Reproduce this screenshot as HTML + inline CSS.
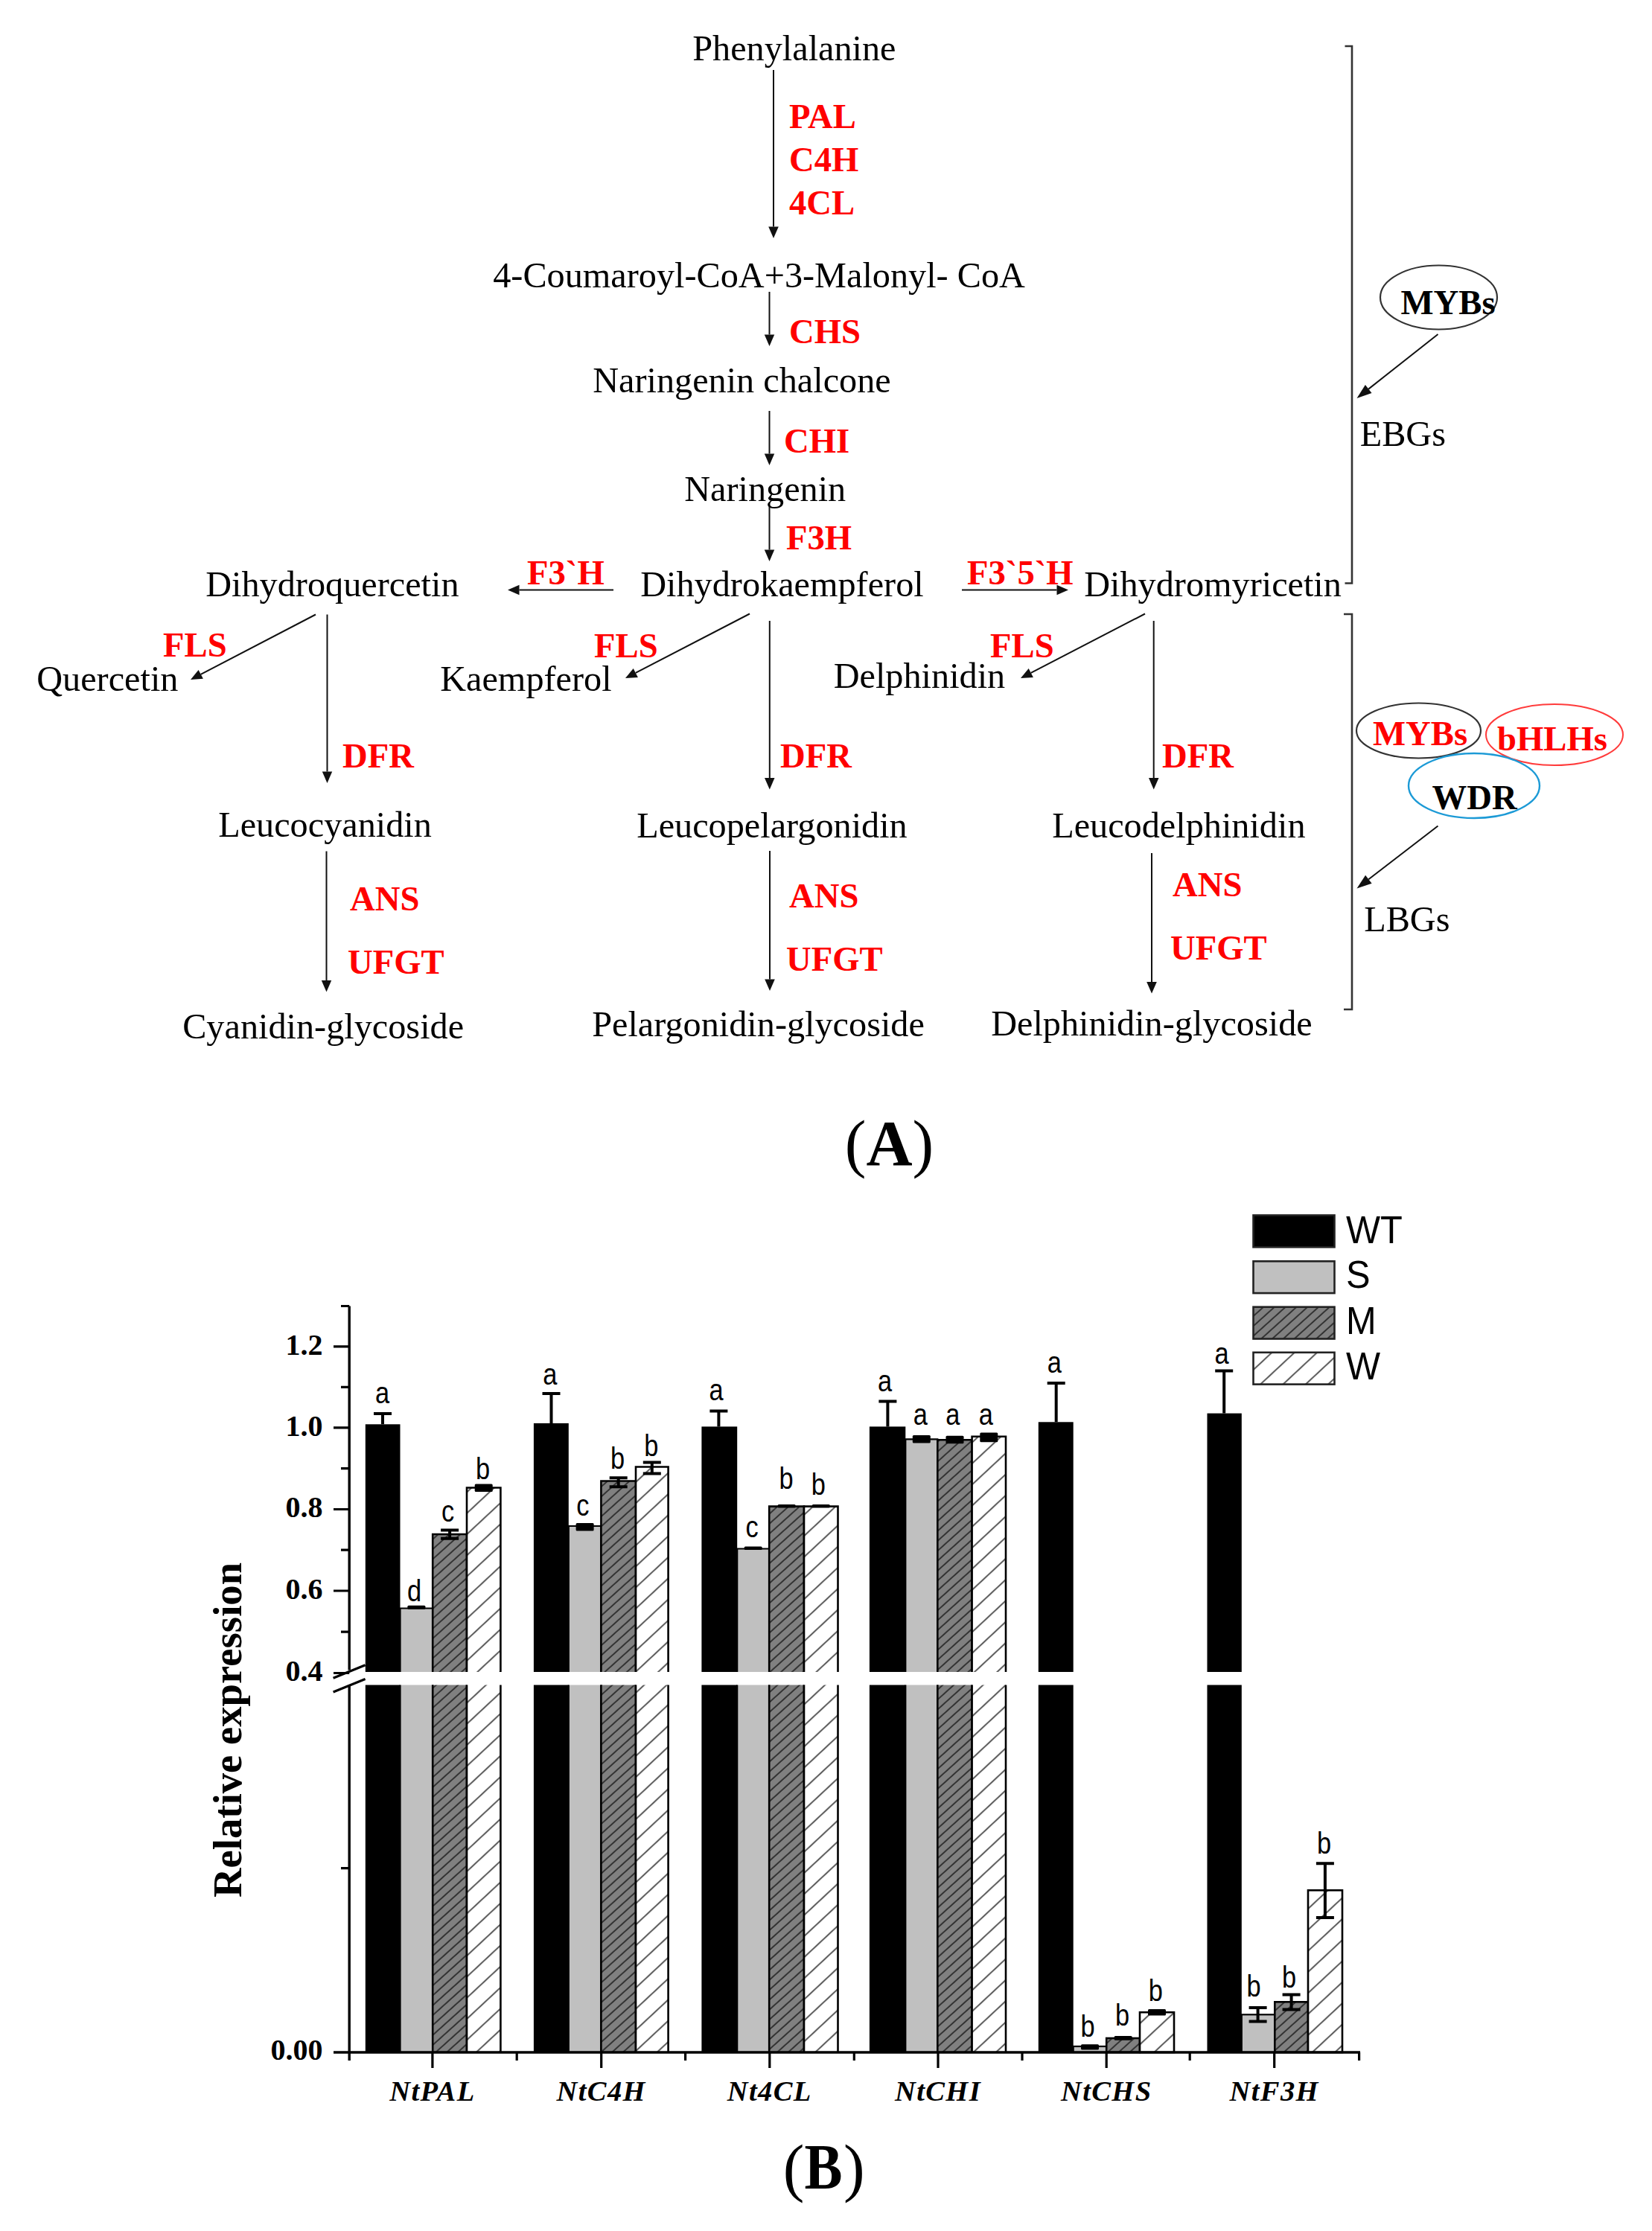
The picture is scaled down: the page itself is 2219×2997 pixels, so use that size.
<!DOCTYPE html>
<html lang="en"><head><meta charset="utf-8"><title>Figure</title>
<style>html,body{margin:0;padding:0;background:#fff}svg{display:block}</style></head>
<body>
<svg width="2219" height="2997" viewBox="0 0 2219 2997">
<rect width="2219" height="2997" fill="#fff"/>
<text x="930.2" y="81" font-family='"Liberation Serif", serif' font-size="48.25" font-weight="normal" font-style="normal" fill="#000" text-anchor="start" >Phenylalanine</text>
<text x="662.2" y="386" font-family='"Liberation Serif", serif' font-size="48.25" font-weight="normal" font-style="normal" fill="#000" text-anchor="start" >4-Coumaroyl-CoA+3-Malonyl- CoA</text>
<text x="796.2" y="527" font-family='"Liberation Serif", serif' font-size="48.25" font-weight="normal" font-style="normal" fill="#000" text-anchor="start" >Naringenin chalcone</text>
<text x="919.2" y="673" font-family='"Liberation Serif", serif' font-size="48.25" font-weight="normal" font-style="normal" fill="#000" text-anchor="start" >Naringenin</text>
<text x="860.2" y="801" font-family='"Liberation Serif", serif' font-size="48.25" font-weight="normal" font-style="normal" fill="#000" text-anchor="start" >Dihydrokaempferol</text>
<text x="276.2" y="801" font-family='"Liberation Serif", serif' font-size="48.25" font-weight="normal" font-style="normal" fill="#000" text-anchor="start" >Dihydroquercetin</text>
<text x="1456.2" y="801" font-family='"Liberation Serif", serif' font-size="48.25" font-weight="normal" font-style="normal" fill="#000" text-anchor="start" >Dihydromyricetin</text>
<text x="49.2" y="928" font-family='"Liberation Serif", serif' font-size="48.25" font-weight="normal" font-style="normal" fill="#000" text-anchor="start" >Quercetin</text>
<text x="591.2" y="928" font-family='"Liberation Serif", serif' font-size="48.25" font-weight="normal" font-style="normal" fill="#000" text-anchor="start" >Kaempferol</text>
<text x="1119.7" y="924" font-family='"Liberation Serif", serif' font-size="48.25" font-weight="normal" font-style="normal" fill="#000" text-anchor="start" >Delphinidin</text>
<text x="293.2" y="1124" font-family='"Liberation Serif", serif' font-size="48.25" font-weight="normal" font-style="normal" fill="#000" text-anchor="start" >Leucocyanidin</text>
<text x="855.2" y="1125" font-family='"Liberation Serif", serif' font-size="48.25" font-weight="normal" font-style="normal" fill="#000" text-anchor="start" >Leucopelargonidin</text>
<text x="1413.2" y="1125" font-family='"Liberation Serif", serif' font-size="48.25" font-weight="normal" font-style="normal" fill="#000" text-anchor="start" >Leucodelphinidin</text>
<text x="245.2" y="1395" font-family='"Liberation Serif", serif' font-size="48.25" font-weight="normal" font-style="normal" fill="#000" text-anchor="start" >Cyanidin-glycoside</text>
<text x="795.2" y="1392" font-family='"Liberation Serif", serif' font-size="48.25" font-weight="normal" font-style="normal" fill="#000" text-anchor="start" >Pelargonidin-glycoside</text>
<text x="1331.2" y="1391" font-family='"Liberation Serif", serif' font-size="48.25" font-weight="normal" font-style="normal" fill="#000" text-anchor="start" >Delphinidin-glycoside</text>
<text x="1826.7" y="598.6" font-family='"Liberation Serif", serif' font-size="48.25" font-weight="normal" font-style="normal" fill="#000" text-anchor="start" >EBGs</text>
<text x="1832.2" y="1251" font-family='"Liberation Serif", serif' font-size="48.25" font-weight="normal" font-style="normal" fill="#000" text-anchor="start" >LBGs</text>
<text x="1060" y="172.3" font-family='"Liberation Serif", serif' font-size="46.7" font-weight="bold" font-style="normal" fill="#ff0000" text-anchor="start" >PAL</text>
<text x="1060" y="229.8" font-family='"Liberation Serif", serif' font-size="46.7" font-weight="bold" font-style="normal" fill="#ff0000" text-anchor="start" >C4H</text>
<text x="1060" y="287.8" font-family='"Liberation Serif", serif' font-size="46.7" font-weight="bold" font-style="normal" fill="#ff0000" text-anchor="start" >4CL</text>
<text x="1060" y="460.8" font-family='"Liberation Serif", serif' font-size="46.7" font-weight="bold" font-style="normal" fill="#ff0000" text-anchor="start" >CHS</text>
<text x="1053" y="607.8" font-family='"Liberation Serif", serif' font-size="46.7" font-weight="bold" font-style="normal" fill="#ff0000" text-anchor="start" >CHI</text>
<text x="1056" y="737.8" font-family='"Liberation Serif", serif' font-size="46.7" font-weight="bold" font-style="normal" fill="#ff0000" text-anchor="start" >F3H</text>
<text x="708" y="784.8" font-family='"Liberation Serif", serif' font-size="46.7" font-weight="bold" font-style="normal" fill="#ff0000" text-anchor="start" >F3`H</text>
<text x="1299" y="784.8" font-family='"Liberation Serif", serif' font-size="46.7" font-weight="bold" font-style="normal" fill="#ff0000" text-anchor="start" >F3`5`H</text>
<text x="219" y="881.8" font-family='"Liberation Serif", serif' font-size="46.7" font-weight="bold" font-style="normal" fill="#ff0000" text-anchor="start" >FLS</text>
<text x="798" y="882.8" font-family='"Liberation Serif", serif' font-size="46.7" font-weight="bold" font-style="normal" fill="#ff0000" text-anchor="start" >FLS</text>
<text x="1330" y="882.8" font-family='"Liberation Serif", serif' font-size="46.7" font-weight="bold" font-style="normal" fill="#ff0000" text-anchor="start" >FLS</text>
<text x="460" y="1030.8" font-family='"Liberation Serif", serif' font-size="46.7" font-weight="bold" font-style="normal" fill="#ff0000" text-anchor="start" >DFR</text>
<text x="1048" y="1030.8" font-family='"Liberation Serif", serif' font-size="46.7" font-weight="bold" font-style="normal" fill="#ff0000" text-anchor="start" >DFR</text>
<text x="1561" y="1030.8" font-family='"Liberation Serif", serif' font-size="46.7" font-weight="bold" font-style="normal" fill="#ff0000" text-anchor="start" >DFR</text>
<text x="470" y="1223.3" font-family='"Liberation Serif", serif' font-size="46.7" font-weight="bold" font-style="normal" fill="#ff0000" text-anchor="start" >ANS</text>
<text x="467" y="1307.8" font-family='"Liberation Serif", serif' font-size="46.7" font-weight="bold" font-style="normal" fill="#ff0000" text-anchor="start" >UFGT</text>
<text x="1060" y="1219.3" font-family='"Liberation Serif", serif' font-size="46.7" font-weight="bold" font-style="normal" fill="#ff0000" text-anchor="start" >ANS</text>
<text x="1056" y="1303.8" font-family='"Liberation Serif", serif' font-size="46.7" font-weight="bold" font-style="normal" fill="#ff0000" text-anchor="start" >UFGT</text>
<text x="1575" y="1203.8" font-family='"Liberation Serif", serif' font-size="46.7" font-weight="bold" font-style="normal" fill="#ff0000" text-anchor="start" >ANS</text>
<text x="1572" y="1288.8" font-family='"Liberation Serif", serif' font-size="46.7" font-weight="bold" font-style="normal" fill="#ff0000" text-anchor="start" >UFGT</text>
<line x1="1039.0" y1="94.0" x2="1039.0" y2="304.5" stroke="#111" stroke-width="2"/>
<polygon points="1039.0,320.0 1032.2,304.5 1045.8,304.5" fill="#111"/>
<line x1="1033.5" y1="392.0" x2="1033.5" y2="449.5" stroke="#111" stroke-width="2"/>
<polygon points="1033.5,465.0 1026.8,449.5 1040.2,449.5" fill="#111"/>
<line x1="1033.5" y1="552.0" x2="1033.5" y2="609.5" stroke="#111" stroke-width="2"/>
<polygon points="1033.5,625.0 1026.8,609.5 1040.2,609.5" fill="#111"/>
<line x1="1033.5" y1="681.0" x2="1033.5" y2="738.5" stroke="#111" stroke-width="2"/>
<polygon points="1033.5,754.0 1026.8,738.5 1040.2,738.5" fill="#111"/>
<line x1="824.0" y1="792.5" x2="697.5" y2="792.5" stroke="#111" stroke-width="2"/>
<polygon points="682.0,792.5 697.5,785.8 697.5,799.2" fill="#111"/>
<line x1="1292.0" y1="792.5" x2="1419.5" y2="792.5" stroke="#111" stroke-width="2"/>
<polygon points="1435.0,792.5 1419.5,799.2 1419.5,785.8" fill="#111"/>
<line x1="424.0" y1="825.5" x2="269.7" y2="905.8" stroke="#111" stroke-width="2"/>
<polygon points="256.0,913.0 266.6,899.9 272.9,911.8" fill="#111"/>
<line x1="1007.0" y1="824.5" x2="853.8" y2="903.9" stroke="#111" stroke-width="2"/>
<polygon points="840.0,911.0 850.7,897.9 856.9,909.9" fill="#111"/>
<line x1="1538.0" y1="824.5" x2="1384.8" y2="903.9" stroke="#111" stroke-width="2"/>
<polygon points="1371.0,911.0 1381.7,897.9 1387.9,909.9" fill="#111"/>
<line x1="439.5" y1="825.5" x2="439.5" y2="1036.5" stroke="#111" stroke-width="2"/>
<polygon points="439.5,1052.0 432.8,1036.5 446.2,1036.5" fill="#111"/>
<line x1="1033.8" y1="834.0" x2="1033.8" y2="1045.0" stroke="#111" stroke-width="2"/>
<polygon points="1033.8,1060.5 1027.0,1045.0 1040.5,1045.0" fill="#111"/>
<line x1="1549.7" y1="834.0" x2="1549.7" y2="1045.0" stroke="#111" stroke-width="2"/>
<polygon points="1549.7,1060.5 1543.0,1045.0 1556.5,1045.0" fill="#111"/>
<line x1="438.5" y1="1143.5" x2="438.5" y2="1317.0" stroke="#111" stroke-width="2"/>
<polygon points="438.5,1332.5 431.8,1317.0 445.2,1317.0" fill="#111"/>
<line x1="1034.0" y1="1143.0" x2="1034.0" y2="1315.5" stroke="#111" stroke-width="2"/>
<polygon points="1034.0,1331.0 1027.2,1315.5 1040.8,1315.5" fill="#111"/>
<line x1="1547.0" y1="1146.0" x2="1547.0" y2="1319.0" stroke="#111" stroke-width="2"/>
<polygon points="1547.0,1334.5 1540.2,1319.0 1553.8,1319.0" fill="#111"/>
<polyline points="1806.5,62 1816,62 1816,783.5 1806.5,783.5" fill="none" stroke="#333" stroke-width="2.6"/>
<polyline points="1805,825 1816,825 1816,1356 1805,1356" fill="none" stroke="#333" stroke-width="2.6"/>
<ellipse cx="1932.5" cy="399.5" rx="78.5" ry="43" fill="none" stroke="#333" stroke-width="2.2"/>
<text x="1881.5" y="421.5" font-family='"Liberation Serif", serif' font-size="46.7" font-weight="bold" font-style="normal" fill="#000" text-anchor="start" >MYBs</text>
<line x1="1931.5" y1="449.0" x2="1838.2" y2="522.6" stroke="#111" stroke-width="2"/>
<polygon points="1822.5,535.0 1833.9,517.1 1842.5,528.1" fill="#111"/>
<ellipse cx="1905.5" cy="981.5" rx="83.5" ry="37" fill="none" stroke="#333" stroke-width="2.2"/>
<ellipse cx="2088" cy="987" rx="92" ry="41" fill="none" stroke="#ff3b3b" stroke-width="2"/>
<ellipse cx="1980" cy="1055.5" rx="88" ry="43.5" fill="none" stroke="#1c9ad6" stroke-width="2.4"/>
<text x="1844" y="1000.5" font-family='"Liberation Serif", serif' font-size="46.7" font-weight="bold" font-style="normal" fill="#ff0000" text-anchor="start" >MYBs</text>
<text x="2011" y="1007.5" font-family='"Liberation Serif", serif' font-size="46.7" font-weight="bold" font-style="normal" fill="#ff0000" text-anchor="start" >bHLHs</text>
<text x="1923.5" y="1086.5" font-family='"Liberation Serif", serif' font-size="46.7" font-weight="bold" font-style="normal" fill="#000" text-anchor="start" >WDR</text>
<line x1="1931.5" y1="1109.5" x2="1838.3" y2="1181.3" stroke="#111" stroke-width="2"/>
<polygon points="1822.5,1193.5 1834.1,1175.7 1842.6,1186.8" fill="#111"/>
<text x="1194.5" y="1564.5" font-family='"Liberation Serif", serif' font-size="86" text-anchor="middle">(<tspan font-weight="bold">A</tspan>)</text>
<text x="1051.7" y="2941" font-family='"Liberation Serif", serif' font-size="86">(</text>
<text transform="translate(1080.5,2940) scale(0.89,1)" font-family='"Liberation Serif", serif' font-size="86" font-weight="bold">B</text>
<text x="1132.9" y="2941" font-family='"Liberation Serif", serif' font-size="86">)</text>
<defs>
<pattern id="hm" width="9.9" height="9.9" patternUnits="userSpaceOnUse" patternTransform="rotate(-42)"><rect width="9.9" height="9.9" fill="#808080"/><line x1="0" y1="5" x2="9.9" y2="5" stroke="#1a1a1a" stroke-width="1.5"/></pattern>
<pattern id="hw" width="20.7" height="20.7" patternUnits="userSpaceOnUse" patternTransform="rotate(-43)"><rect width="20.7" height="20.7" fill="#fff"/><line x1="0" y1="10" x2="20.7" y2="10" stroke="#505050" stroke-width="1.9"/></pattern>
</defs>
<rect x="490.8" y="1913.3" width="46.7" height="332.7" fill="#000"/>
<path d="M490.8,2246 V1913.3 H537.5 V2246" fill="none" stroke="#000" stroke-width="0.01"/>
<rect x="490.8" y="2263.5" width="46.7" height="493.5" fill="#000"/>
<path d="M490.8,2263.5 V2757 M537.5,2263.5 V2757" fill="none" stroke="#000" stroke-width="0.01"/>
<path d="M502.0,1899.0 H526.0 M514.0,1899.0 V1913.3" stroke="#000" stroke-width="4" fill="none"/>
<text transform="translate(513.5,1885.3) scale(0.84,1)" font-family='"Liberation Sans", sans-serif' font-size="41" text-anchor="middle">a</text>
<rect x="537.5" y="2160.5" width="43.7" height="85.5" fill="#c0c0c0"/>
<path d="M537.5,2246 V2160.5 H581.2 V2246" fill="none" stroke="#000" stroke-width="2.2"/>
<rect x="537.5" y="2263.5" width="43.7" height="493.5" fill="#c0c0c0"/>
<path d="M537.5,2263.5 V2757 M581.2,2263.5 V2757" fill="none" stroke="#000" stroke-width="2.2"/>
<rect x="547.4" y="2156.8" width="24" height="5.0" rx="1.5" fill="#000"/>
<text transform="translate(556.7,2150.5) scale(0.84,1)" font-family='"Liberation Sans", sans-serif' font-size="41" text-anchor="middle">d</text>
<rect x="581.2" y="2061.0" width="45.8" height="185.0" fill="url(#hm)"/>
<path d="M581.2,2246 V2061.0 H627.0 V2246" fill="none" stroke="#000" stroke-width="2.6"/>
<rect x="581.2" y="2263.5" width="45.8" height="493.5" fill="url(#hm)"/>
<path d="M581.2,2263.5 V2757 M627.0,2263.5 V2757" fill="none" stroke="#000" stroke-width="2.6"/>
<path d="M592.1,2055.6 H616.1 M604.1,2055.6 V2066.8 M592.1,2066.8 H616.1" stroke="#000" stroke-width="4" fill="none"/>
<text transform="translate(601.5,2044) scale(0.84,1)" font-family='"Liberation Sans", sans-serif' font-size="41" text-anchor="middle">c</text>
<rect x="627.0" y="1998.5" width="45.4" height="247.5" fill="url(#hw)"/>
<path d="M627.0,2246 V1998.5 H672.4 V2246" fill="none" stroke="#000" stroke-width="2.6"/>
<rect x="627.0" y="2263.5" width="45.4" height="493.5" fill="url(#hw)"/>
<path d="M627.0,2263.5 V2757 M672.4,2263.5 V2757" fill="none" stroke="#000" stroke-width="2.6"/>
<rect x="637.7" y="1993.5" width="24" height="10.5" rx="1.5" fill="#000"/>
<text transform="translate(648.7,1986.7) scale(0.84,1)" font-family='"Liberation Sans", sans-serif' font-size="41" text-anchor="middle">b</text>
<rect x="716.9" y="1911.9" width="46.9" height="334.1" fill="#000"/>
<path d="M716.9,2246 V1911.9 H763.8 V2246" fill="none" stroke="#000" stroke-width="0.01"/>
<rect x="716.9" y="2263.5" width="46.9" height="493.5" fill="#000"/>
<path d="M716.9,2263.5 V2757 M763.8,2263.5 V2757" fill="none" stroke="#000" stroke-width="0.01"/>
<path d="M728.5,1872.0 H752.5 M740.5,1872.0 V1911.9" stroke="#000" stroke-width="4" fill="none"/>
<text transform="translate(738.8,1860) scale(0.84,1)" font-family='"Liberation Sans", sans-serif' font-size="41" text-anchor="middle">a</text>
<rect x="763.8" y="2050.0" width="43.6" height="196.0" fill="#c0c0c0"/>
<path d="M763.8,2246 V2050.0 H807.4 V2246" fill="none" stroke="#000" stroke-width="2.2"/>
<rect x="763.8" y="2263.5" width="43.6" height="493.5" fill="#c0c0c0"/>
<path d="M763.8,2263.5 V2757 M807.4,2263.5 V2757" fill="none" stroke="#000" stroke-width="2.2"/>
<rect x="773.6" y="2046" width="24" height="10.5" rx="1.5" fill="#000"/>
<text transform="translate(782.8,2036) scale(0.84,1)" font-family='"Liberation Sans", sans-serif' font-size="41" text-anchor="middle">c</text>
<rect x="807.4" y="1989.5" width="46.6" height="256.5" fill="url(#hm)"/>
<path d="M807.4,2246 V1989.5 H854.0 V2246" fill="none" stroke="#000" stroke-width="2.6"/>
<rect x="807.4" y="2263.5" width="46.6" height="493.5" fill="url(#hm)"/>
<path d="M807.4,2263.5 V2757 M854.0,2263.5 V2757" fill="none" stroke="#000" stroke-width="2.6"/>
<path d="M818.7,1985.3 H842.7 M830.7,1985.3 V1997.3 M818.7,1997.3 H842.7" stroke="#000" stroke-width="4" fill="none"/>
<text transform="translate(829.5,1973.3) scale(0.84,1)" font-family='"Liberation Sans", sans-serif' font-size="41" text-anchor="middle">b</text>
<rect x="854.0" y="1970.5" width="43.6" height="275.5" fill="url(#hw)"/>
<path d="M854.0,2246 V1970.5 H897.6 V2246" fill="none" stroke="#000" stroke-width="2.6"/>
<rect x="854.0" y="2263.5" width="43.6" height="493.5" fill="url(#hw)"/>
<path d="M854.0,2263.5 V2757 M897.6,2263.5 V2757" fill="none" stroke="#000" stroke-width="2.6"/>
<path d="M863.8,1964.5 H887.8 M875.8,1964.5 V1979.5 M863.8,1979.5 H887.8" stroke="#000" stroke-width="4" fill="none"/>
<text transform="translate(874.8,1956) scale(0.84,1)" font-family='"Liberation Sans", sans-serif' font-size="41" text-anchor="middle">b</text>
<rect x="942.4" y="1916.4" width="47.8" height="329.6" fill="#000"/>
<path d="M942.4,2246 V1916.4 H990.2 V2246" fill="none" stroke="#000" stroke-width="0.01"/>
<rect x="942.4" y="2263.5" width="47.8" height="493.5" fill="#000"/>
<path d="M942.4,2263.5 V2757 M990.2,2263.5 V2757" fill="none" stroke="#000" stroke-width="0.01"/>
<path d="M953.4,1895.4 H977.4 M965.4,1895.4 V1916.4" stroke="#000" stroke-width="4" fill="none"/>
<text transform="translate(962.1,1880.7) scale(0.84,1)" font-family='"Liberation Sans", sans-serif' font-size="41" text-anchor="middle">a</text>
<rect x="990.2" y="2080.5" width="43.0" height="165.5" fill="#c0c0c0"/>
<path d="M990.2,2246 V2080.5 H1033.2 V2246" fill="none" stroke="#000" stroke-width="2.2"/>
<rect x="990.2" y="2263.5" width="43.0" height="493.5" fill="#c0c0c0"/>
<path d="M990.2,2263.5 V2757 M1033.2,2263.5 V2757" fill="none" stroke="#000" stroke-width="2.2"/>
<rect x="999.7" y="2077.6" width="24" height="4.4" rx="1.5" fill="#000"/>
<text transform="translate(1010.0,2065) scale(0.84,1)" font-family='"Liberation Sans", sans-serif' font-size="41" text-anchor="middle">c</text>
<rect x="1033.2" y="2023.6" width="46.8" height="222.4" fill="url(#hm)"/>
<path d="M1033.2,2246 V2023.6 H1080.0 V2246" fill="none" stroke="#000" stroke-width="2.6"/>
<rect x="1033.2" y="2263.5" width="46.8" height="493.5" fill="url(#hm)"/>
<path d="M1033.2,2263.5 V2757 M1080.0,2263.5 V2757" fill="none" stroke="#000" stroke-width="2.6"/>
<rect x="1044.6" y="2021" width="24" height="4.6" rx="1.5" fill="#000"/>
<text transform="translate(1056.1,1999.8) scale(0.84,1)" font-family='"Liberation Sans", sans-serif' font-size="41" text-anchor="middle">b</text>
<rect x="1080.0" y="2023.6" width="45.5" height="222.4" fill="url(#hw)"/>
<path d="M1080.0,2246 V2023.6 H1125.5 V2246" fill="none" stroke="#000" stroke-width="2.6"/>
<rect x="1080.0" y="2263.5" width="45.5" height="493.5" fill="url(#hw)"/>
<path d="M1080.0,2263.5 V2757 M1125.5,2263.5 V2757" fill="none" stroke="#000" stroke-width="2.6"/>
<rect x="1090.8" y="2021" width="24" height="4.6" rx="1.5" fill="#000"/>
<text transform="translate(1099.3,2007.8) scale(0.84,1)" font-family='"Liberation Sans", sans-serif' font-size="41" text-anchor="middle">b</text>
<rect x="1167.9" y="1916.4" width="48.4" height="329.6" fill="#000"/>
<path d="M1167.9,2246 V1916.4 H1216.3 V2246" fill="none" stroke="#000" stroke-width="0.01"/>
<rect x="1167.9" y="2263.5" width="48.4" height="493.5" fill="#000"/>
<path d="M1167.9,2263.5 V2757 M1216.3,2263.5 V2757" fill="none" stroke="#000" stroke-width="0.01"/>
<path d="M1180.4,1882.6 H1204.4 M1192.4,1882.6 V1916.4" stroke="#000" stroke-width="4" fill="none"/>
<text transform="translate(1188.5,1869.3) scale(0.84,1)" font-family='"Liberation Sans", sans-serif' font-size="41" text-anchor="middle">a</text>
<rect x="1216.3" y="1933.3" width="43.0" height="312.7" fill="#c0c0c0"/>
<path d="M1216.3,2246 V1933.3 H1259.3 V2246" fill="none" stroke="#000" stroke-width="2.2"/>
<rect x="1216.3" y="2263.5" width="43.0" height="493.5" fill="#c0c0c0"/>
<path d="M1216.3,2263.5 V2757 M1259.3,2263.5 V2757" fill="none" stroke="#000" stroke-width="2.2"/>
<rect x="1225.8" y="1928" width="24" height="10.5" rx="1.5" fill="#000"/>
<text transform="translate(1236.4,1913.8) scale(0.84,1)" font-family='"Liberation Sans", sans-serif' font-size="41" text-anchor="middle">a</text>
<rect x="1259.3" y="1934.3" width="46.3" height="311.7" fill="url(#hm)"/>
<path d="M1259.3,2246 V1934.3 H1305.6 V2246" fill="none" stroke="#000" stroke-width="2.6"/>
<rect x="1259.3" y="2263.5" width="46.3" height="493.5" fill="url(#hm)"/>
<path d="M1259.3,2263.5 V2757 M1305.6,2263.5 V2757" fill="none" stroke="#000" stroke-width="2.6"/>
<rect x="1270.5" y="1928.7" width="24" height="10.6" rx="1.5" fill="#000"/>
<text transform="translate(1279.8,1913.8) scale(0.84,1)" font-family='"Liberation Sans", sans-serif' font-size="41" text-anchor="middle">a</text>
<rect x="1305.6" y="1929.7" width="45.4" height="316.3" fill="url(#hw)"/>
<path d="M1305.6,2246 V1929.7 H1351.0 V2246" fill="none" stroke="#000" stroke-width="2.6"/>
<rect x="1305.6" y="2263.5" width="45.4" height="493.5" fill="url(#hw)"/>
<path d="M1305.6,2263.5 V2757 M1351.0,2263.5 V2757" fill="none" stroke="#000" stroke-width="2.6"/>
<rect x="1316.3" y="1924.4" width="24" height="12.8" rx="1.5" fill="#000"/>
<text transform="translate(1324.3,1913.8) scale(0.84,1)" font-family='"Liberation Sans", sans-serif' font-size="41" text-anchor="middle">a</text>
<rect x="1394.8" y="1910.3" width="46.9" height="335.7" fill="#000"/>
<path d="M1394.8,2246 V1910.3 H1441.7 V2246" fill="none" stroke="#000" stroke-width="0.01"/>
<rect x="1394.8" y="2263.5" width="46.9" height="493.5" fill="#000"/>
<path d="M1394.8,2263.5 V2757 M1441.7,2263.5 V2757" fill="none" stroke="#000" stroke-width="0.01"/>
<path d="M1406.7,1858.0 H1430.7 M1418.7,1858.0 V1910.3" stroke="#000" stroke-width="4" fill="none"/>
<text transform="translate(1416.4,1843.6) scale(0.84,1)" font-family='"Liberation Sans", sans-serif' font-size="41" text-anchor="middle">a</text>
<rect x="1441.7" y="2749.0" width="44.5" height="8.0" fill="#c0c0c0" stroke="#000" stroke-width="2.2"/>
<rect x="1452.0" y="2746.3" width="24" height="7.3" rx="1.5" fill="#000"/>
<text transform="translate(1461.0,2735.9) scale(0.84,1)" font-family='"Liberation Sans", sans-serif' font-size="41" text-anchor="middle">b</text>
<rect x="1486.2" y="2738.0" width="44.8" height="19.0" fill="url(#hm)" stroke="#000" stroke-width="2.6"/>
<rect x="1496.7" y="2735" width="24" height="5.7" rx="1.5" fill="#000"/>
<text transform="translate(1507.5,2720.9) scale(0.84,1)" font-family='"Liberation Sans", sans-serif' font-size="41" text-anchor="middle">b</text>
<rect x="1531.0" y="2703.2" width="46" height="53.8" fill="url(#hw)" stroke="#000" stroke-width="2.6"/>
<rect x="1542.0" y="2699" width="24" height="8.6" rx="1.5" fill="#000"/>
<text transform="translate(1552.3,2687.5) scale(0.84,1)" font-family='"Liberation Sans", sans-serif' font-size="41" text-anchor="middle">b</text>
<rect x="1621.5" y="1898.6" width="46.3" height="347.4" fill="#000"/>
<path d="M1621.5,2246 V1898.6 H1667.8 V2246" fill="none" stroke="#000" stroke-width="0.01"/>
<rect x="1621.5" y="2263.5" width="46.3" height="493.5" fill="#000"/>
<path d="M1621.5,2263.5 V2757 M1667.8,2263.5 V2757" fill="none" stroke="#000" stroke-width="0.01"/>
<path d="M1632.2,1841.4 H1656.2 M1644.2,1841.4 V1898.6" stroke="#000" stroke-width="4" fill="none"/>
<text transform="translate(1641.1,1832.1) scale(0.84,1)" font-family='"Liberation Sans", sans-serif' font-size="41" text-anchor="middle">a</text>
<rect x="1667.8" y="2706.3" width="44.5" height="50.7" fill="#c0c0c0" stroke="#000" stroke-width="2.2"/>
<path d="M1677.6,2696.9 H1701.6 M1689.6,2696.9 V2715.5 M1677.6,2715.5 H1701.6" stroke="#000" stroke-width="4" fill="none"/>
<text transform="translate(1684.2,2682.1) scale(0.84,1)" font-family='"Liberation Sans", sans-serif' font-size="41" text-anchor="middle">b</text>
<rect x="1712.3" y="2689.3" width="44.7" height="67.7" fill="url(#hm)" stroke="#000" stroke-width="2.6"/>
<path d="M1722.6,2679.4 H1746.6 M1734.6,2679.4 V2699.6 M1722.6,2699.6 H1746.6" stroke="#000" stroke-width="4" fill="none"/>
<text transform="translate(1731.5,2670) scale(0.84,1)" font-family='"Liberation Sans", sans-serif' font-size="41" text-anchor="middle">b</text>
<rect x="1757.0" y="2539.3" width="46" height="217.7" fill="url(#hw)" stroke="#000" stroke-width="2.6"/>
<path d="M1767.9,2503.2 H1791.9 M1779.9,2503.2 V2576.0 M1767.9,2576.0 H1791.9" stroke="#000" stroke-width="4" fill="none"/>
<text transform="translate(1778.7,2489.6) scale(0.84,1)" font-family='"Liberation Sans", sans-serif' font-size="41" text-anchor="middle">b</text>
<path d="M469.2,1754.5 V2243.5 M469.2,2264 V2768" stroke="#000" stroke-width="3.4" fill="none"/>
<path d="M448,2757 H1827" stroke="#000" stroke-width="3.6" fill="none"/>
<path d="M447.6,2254.3 L490.6,2236.8 M447.6,2273 L490.6,2255.6" stroke="#000" stroke-width="3.2" fill="none"/>
<text x="433.5" y="1819.6" font-family='"Liberation Serif", serif' font-size="40" font-weight="bold" font-style="normal" fill="#000" text-anchor="end" >1.2</text>
<text x="433.5" y="1928.6" font-family='"Liberation Serif", serif' font-size="40" font-weight="bold" font-style="normal" fill="#000" text-anchor="end" >1.0</text>
<text x="433.5" y="2038.3" font-family='"Liberation Serif", serif' font-size="40" font-weight="bold" font-style="normal" fill="#000" text-anchor="end" >0.8</text>
<text x="433.5" y="2147.8" font-family='"Liberation Serif", serif' font-size="40" font-weight="bold" font-style="normal" fill="#000" text-anchor="end" >0.6</text>
<text x="433.5" y="2258.3" font-family='"Liberation Serif", serif' font-size="40" font-weight="bold" font-style="normal" fill="#000" text-anchor="end" >0.4</text>
<path d="M448,1808.8 H469.2 M448,1917.8 H469.2 M448,2027.5 H469.2 M448,2137 H469.2 M448,2247.5 H469.2 M458,1754.5 H469.2 M458,1863.3 H469.2 M458,1972.7 H469.2 M458,2082.2 H469.2 M458,2192.2 H469.2 M458,2509.6 H469.2 " stroke="#000" stroke-width="3.2" fill="none"/>
<text x="433.5" y="2767" font-family='"Liberation Serif", serif' font-size="40" font-weight="bold" font-style="normal" fill="#000" text-anchor="end" >0.00</text>
<text x="580.9" y="2822" font-family='"Liberation Serif", serif' font-size="38.5" font-weight="bold" font-style="italic" fill="#000" text-anchor="middle" letter-spacing="1.4">NtPAL</text>
<text x="807.7" y="2822" font-family='"Liberation Serif", serif' font-size="38.5" font-weight="bold" font-style="italic" fill="#000" text-anchor="middle" letter-spacing="1.4">NtC4H</text>
<text x="1033.8" y="2822" font-family='"Liberation Serif", serif' font-size="38.5" font-weight="bold" font-style="italic" fill="#000" text-anchor="middle" letter-spacing="1.4">Nt4CL</text>
<text x="1260" y="2822" font-family='"Liberation Serif", serif' font-size="38.5" font-weight="bold" font-style="italic" fill="#000" text-anchor="middle" letter-spacing="1.4">NtCHI</text>
<text x="1486.2" y="2822" font-family='"Liberation Serif", serif' font-size="38.5" font-weight="bold" font-style="italic" fill="#000" text-anchor="middle" letter-spacing="1.4">NtCHS</text>
<text x="1711.7" y="2822" font-family='"Liberation Serif", serif' font-size="38.5" font-weight="bold" font-style="italic" fill="#000" text-anchor="middle" letter-spacing="1.4">NtF3H</text>
<path d="M580.9,2757 V2778 M807.7,2757 V2778 M1033.8,2757 V2778 M1260,2757 V2778 M1486.2,2757 V2778 M1711.7,2757 V2778 M694.2,2757 V2768 M920.6,2757 V2768 M1147.3,2757 V2768 M1373,2757 V2768 M1598.2,2757 V2768 M1825.6,2757 V2768 " stroke="#000" stroke-width="3.2" fill="none"/>
<text transform="translate(323.5,2549) rotate(-90)" font-family='"Liberation Serif", serif' font-size="54.7" font-weight="bold">Relative expression</text>
<rect x="1683.5" y="1632.5" width="109" height="42.8" fill="#000" stroke="#222" stroke-width="2.6"/>
<text transform="translate(1808,1670) scale(1,1.07)" font-family='"Liberation Sans", sans-serif' font-size="48.8">WT</text>
<rect x="1683.5" y="1694.3" width="109" height="42.8" fill="#c0c0c0" stroke="#222" stroke-width="2.6"/>
<text transform="translate(1808,1730) scale(1,1.07)" font-family='"Liberation Sans", sans-serif' font-size="48.8">S</text>
<rect x="1683.5" y="1755.7" width="109" height="42.8" fill="url(#hm)" stroke="#222" stroke-width="2.6"/>
<text transform="translate(1808,1792) scale(1,1.07)" font-family='"Liberation Sans", sans-serif' font-size="48.8">M</text>
<rect x="1683.5" y="1816.8" width="109" height="42.8" fill="url(#hw)" stroke="#222" stroke-width="2.6"/>
<text transform="translate(1808,1852.5) scale(1,1.07)" font-family='"Liberation Sans", sans-serif' font-size="48.8">W</text>
</svg>
</body></html>
